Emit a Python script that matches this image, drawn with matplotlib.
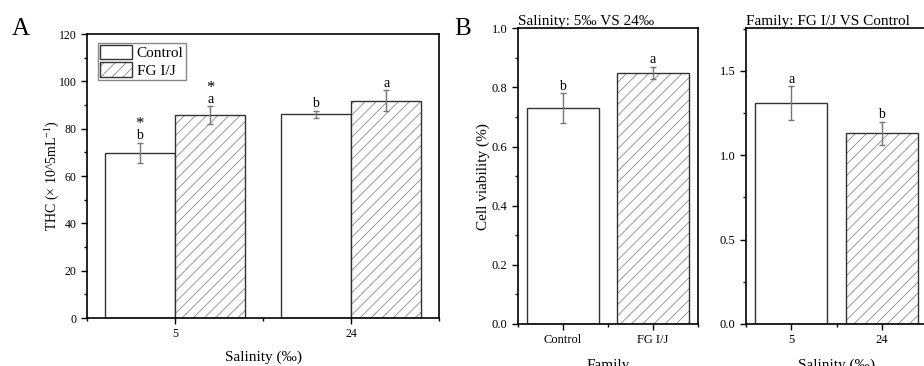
import numpy as np
import matplotlib
matplotlib.use('Agg')
import matplotlib.pyplot as plt
from matplotlib.ticker import MultipleLocator, FormatStrFormatter
from matplotlib.patches import Patch

plt.rcParams['font.family'] = ['Liberation Serif', 'DejaVu Serif']
plt.rcParams['mathtext.fontset'] = 'custom'
plt.rcParams['mathtext.rm'] = 'Liberation Serif'
plt.rcParams['mathtext.it'] = 'Liberation Serif:italic'
plt.rcParams['hatch.linewidth'] = 0.6

# Panel A: THC by salinity
salinity = ['5', '24']
thc_control = [69.8, 86.1]
thc_control_err = [4.2, 1.5]
thc_fg = [85.7, 91.8]
thc_fg_err = [3.7, 4.5]
thc_control_letters = ['b', 'b']
thc_fg_letters = ['a', 'a']
thc_control_star = ['*', '']
thc_fg_star = ['*', '']

# Panel B left: cell viability by family
family = ['Control', 'FG I/J']
viab_family = [0.73, 0.85]
viab_family_err = [0.05, 0.02]
viab_family_letters = ['b', 'a']

# Panel B right: cell viability by salinity
salinity_b = ['5', '24']
viab_sal = [1.31, 1.13]
viab_sal_err = [0.10, 0.07]
viab_sal_letters = ['a', 'b']

EDGE = '#333333'
HATCH = '#8a8a8a'
ERR = '#777777'


def draw_bar(ax, x, h, w, hatched):
    if hatched:
        ax.bar(x, h, w, color='white', edgecolor=HATCH, hatch='///', linewidth=0)
    ax.bar(x, h, w, fill=False, edgecolor=EDGE, linewidth=1.0)


def mark(ax, x, top, text, off=2.5, size=10):
    if text:
        ax.annotate(text, (x, top), xytext=(0, off), textcoords='offset points',
                    ha='center', va='baseline', fontsize=size)


def style(ax, labelsize):
    for s in ax.spines.values():
        s.set_linewidth(1.2)
    ax.tick_params(which='major', direction='out', length=4, width=1,
                   labelsize=labelsize, top=False, right=False)
    ax.tick_params(which='minor', direction='out', length=2.5, width=1,
                   top=False, right=False)
    ax.xaxis.set_minor_locator(MultipleLocator(0.5))


fig = plt.figure(figsize=(9.24, 3.66), dpi=100)

# ---- Panel A ----
axA = fig.add_axes([0.0942, 0.1311, 0.381, 0.776])
pos = np.arange(len(salinity))
w = 0.4
for i in range(len(salinity)):
    draw_bar(axA, pos[i] - w / 2, thc_control[i], w, False)
    draw_bar(axA, pos[i] + w / 2, thc_fg[i], w, True)
    axA.errorbar(pos[i] - w / 2, thc_control[i], yerr=thc_control_err[i], fmt='none',
                 ecolor=ERR, elinewidth=1, capsize=2.5, capthick=1)
    axA.errorbar(pos[i] + w / 2, thc_fg[i], yerr=thc_fg_err[i], fmt='none',
                 ecolor=ERR, elinewidth=1, capsize=2.5, capthick=1)
    t1 = thc_control[i] + thc_control_err[i]
    t2 = thc_fg[i] + thc_fg_err[i]
    mark(axA, pos[i] - w / 2, t1, thc_control_letters[i])
    mark(axA, pos[i] + w / 2, t2, thc_fg_letters[i])
    mark(axA, pos[i] - w / 2, t1, thc_control_star[i], off=10.5, size=12)
    mark(axA, pos[i] + w / 2, t2, thc_fg_star[i], off=10.5, size=12)

axA.set_xlim(-0.5, 1.5)
axA.set_ylim(0, 120)
axA.set_xticks(pos)
axA.set_xticklabels(salinity)
axA.yaxis.set_major_locator(MultipleLocator(20))
axA.yaxis.set_minor_locator(MultipleLocator(10))
style(axA, 8.5)
axA.set_xlabel('Salinity (‰)', fontsize=11, labelpad=7)
axA.set_ylabel('THC (× 10^5mL$^{-1}$)', fontsize=10, labelpad=-2)

h_ctrl = Patch(facecolor='white', edgecolor=EDGE, linewidth=1.0)
h_fg_hatch = Patch(facecolor='white', edgecolor=HATCH, hatch='///', linewidth=0)
h_fg_edge = Patch(fill=False, edgecolor=EDGE, linewidth=1.0)
leg = axA.legend([h_ctrl, (h_fg_hatch, h_fg_edge)], ['Control', 'FG I/J'],
                 loc='upper left', bbox_to_anchor=(0.03, 0.97), fontsize=11,
                 handlelength=2.1, handleheight=1.1, labelspacing=0.12,
                 borderpad=0.15, handletextpad=0.3, borderaxespad=0,
                 fancybox=False, framealpha=1, edgecolor='#888888')
leg.get_frame().set_linewidth(1.0)

# ---- Panel B left ----
axB1 = fig.add_axes([0.5603, 0.1148, 0.1951, 0.808])
posb = np.arange(len(family))
for i in range(len(family)):
    draw_bar(axB1, posb[i], viab_family[i], 0.8, i == 1)
    axB1.errorbar(posb[i], viab_family[i], yerr=viab_family_err[i], fmt='none',
                  ecolor=ERR, elinewidth=1, capsize=2.5, capthick=1)
    mark(axB1, posb[i], viab_family[i] + viab_family_err[i], viab_family_letters[i])
axB1.set_xlim(-0.5, 1.5)
axB1.set_ylim(0, 1.0)
axB1.set_xticks(posb)
axB1.set_xticklabels(family)
axB1.yaxis.set_major_locator(MultipleLocator(0.2))
axB1.yaxis.set_minor_locator(MultipleLocator(0.1))
axB1.yaxis.set_major_formatter(FormatStrFormatter('%.1f'))
style(axB1, 9)
axB1.set_xlabel('Family', fontsize=11, labelpad=9)
axB1.set_ylabel('Cell viability (%)', fontsize=11, labelpad=1)
axB1.set_title('Salinity: 5‰ VS 24‰', loc='left', pad=0, fontsize=11)

# ---- Panel B right ----
axB2 = fig.add_axes([0.8074, 0.1148, 0.1959, 0.808])
for i in range(len(salinity_b)):
    draw_bar(axB2, posb[i], viab_sal[i], 0.8, i == 1)
    axB2.errorbar(posb[i], viab_sal[i], yerr=viab_sal_err[i], fmt='none',
                  ecolor=ERR, elinewidth=1, capsize=2.5, capthick=1)
    mark(axB2, posb[i], viab_sal[i] + viab_sal_err[i], viab_sal_letters[i])
axB2.set_xlim(-0.5, 1.5)
axB2.set_ylim(0, 1.753)
axB2.set_xticks(posb)
axB2.set_xticklabels(salinity_b)
axB2.yaxis.set_major_locator(MultipleLocator(0.5))
axB2.yaxis.set_minor_locator(MultipleLocator(0.25))
axB2.yaxis.set_major_formatter(FormatStrFormatter('%.1f'))
style(axB2, 9)
axB2.set_xlabel('Salinity (‰)', fontsize=11, labelpad=9)
axB2.set_title('Family: FG I/J VS Control', loc='left', pad=0, fontsize=11)

fig.text(0.013, 1 - 35 / 366, 'A', fontsize=18, va='baseline')
fig.text(0.492, 1 - 35 / 366, 'B', fontsize=18, va='baseline')

fig.savefig('out.png', dpi=100)
